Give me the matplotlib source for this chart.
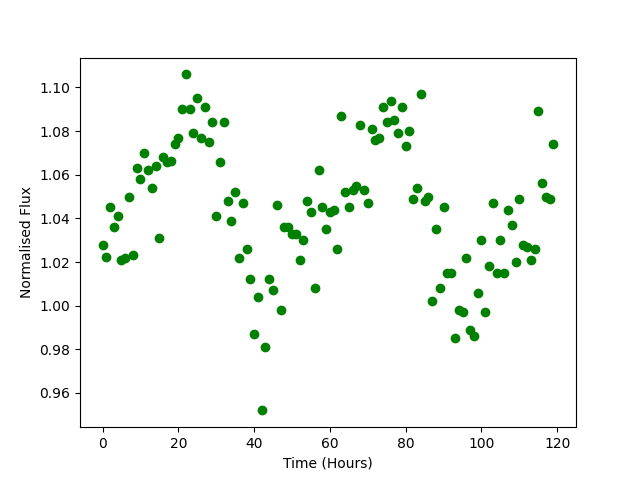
import matplotlib
matplotlib.use('Agg')
import matplotlib.pyplot as plt
import numpy as np

# hourly samples, 0..119
hours = np.arange(120)

flux = [
    1.028, 1.0225, 1.045, 1.036, 1.041, 1.021, 1.022, 1.050, 1.023, 1.063,
    1.058, 1.070, 1.062, 1.054, 1.064, 1.031, 1.068, 1.066, 1.0665, 1.074,
    1.077, 1.090, 1.106, 1.090, 1.079, 1.095, 1.077, 1.091, 1.075, 1.084,
    1.041, 1.066, 1.084, 1.048, 1.039, 1.052, 1.022, 1.047, 1.026, 1.012,
    0.987, 1.004, 0.952, 0.981, 1.012, 1.007, 1.046, 0.998, 1.036, 1.036,
    1.033, 1.033, 1.021, 1.030, 1.048, 1.043, 1.008, 1.062, 1.045, 1.035,
    1.043, 1.044, 1.026, 1.087, 1.052, 1.045, 1.053, 1.055, 1.083, 1.053,
    1.047, 1.081, 1.076, 1.077, 1.091, 1.084, 1.094, 1.085, 1.079, 1.091,
    1.073, 1.080, 1.049, 1.054, 1.097, 1.048, 1.050, 1.002, 1.035, 1.008,
    1.045, 1.015, 1.015, 0.985, 0.998, 0.997, 1.022, 0.989, 0.986, 1.006,
    1.030, 0.997, 1.018, 1.047, 1.015, 1.030, 1.015, 1.044, 1.037, 1.020,
    1.049, 1.028, 1.027, 1.021, 1.026, 1.089, 1.056, 1.050, 1.049, 1.074,
]

fig, ax = plt.subplots(figsize=(6.4, 4.8), dpi=100)
ax.plot(hours, flux, 'go')
ax.set_xlabel('Time (Hours)')
ax.set_ylabel('Normalised Flux')

fig.savefig('out.png')
